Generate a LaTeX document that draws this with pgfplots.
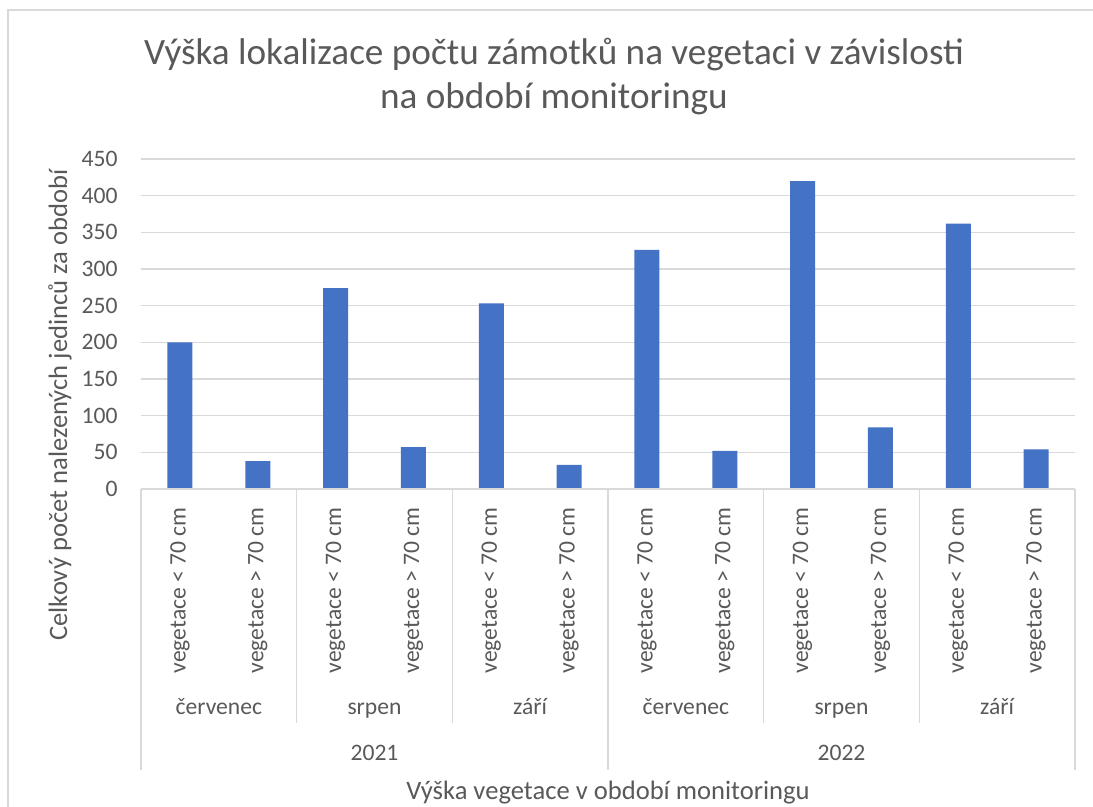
\documentclass[border=0pt]{standalone}
\usepackage{fontspec}
\setmainfont{Carlito}
\usepackage{pgfplots}
\pgfplotsset{compat=1.18}
\definecolor{barblue}{HTML}{4472C4}
\definecolor{gridgray}{HTML}{D9D9D9}
\definecolor{txtgray}{HTML}{595959}
\begin{document}
\begin{tikzpicture}[x=1pt,y=1pt,
  lbl/.style={anchor=base, font=\fontsize{11.8}{14}\selectfont, text=txtgray},
  sep/.style={gridgray, line width=0.75pt}]
\useasboundingbox (0,0) rectangle (546.5,403.5);
\draw[gridgray, line width=0.75pt] (4,0) -- (4,398.5) -- (546.5,398.5);
\begin{axis}[
  at={(70.5pt,159pt)}, anchor=south west,
  scale only axis, width=467pt, height=165pt,
  xmin=-0.5, xmax=11.5, ymin=0, ymax=450,
  ytick={0,50,...,450},
  xtick={0,...,11},
  xticklabels={vegetace < 70 cm, vegetace > 70 cm, vegetace < 70 cm, vegetace > 70 cm, vegetace < 70 cm, vegetace > 70 cm, vegetace < 70 cm, vegetace > 70 cm, vegetace < 70 cm, vegetace > 70 cm, vegetace < 70 cm, vegetace > 70 cm},
  axis line style={draw=none},
  major tick length=0pt,
  ymajorgrids, grid style={gridgray, line width=0.75pt},
  tick label style={font=\fontsize{11.8}{14}\selectfont, text=txtgray},
  /pgf/number format/assume math mode=true,
  yticklabel style={anchor=east, inner sep=0pt},
  yticklabel shift=11.5pt,
  xticklabel style={rotate=90, anchor=east, inner sep=0pt},
  xticklabel shift=9pt,
  clip=false,
  ybar, bar width=12.5pt,
]
\addplot[fill=barblue, draw=none] coordinates {(0,200) (1,38) (2,274) (3,57) (4,253) (5,33) (6,326) (7,52) (8,420) (9,84) (10,362) (11,54)};
\draw[sep] (axis cs:-0.5,0) -- (axis cs:11.5,0);
\draw[sep] (axis cs:1.5,0) -- ([yshift=-117pt]axis cs:1.5,0);
\draw[sep] (axis cs:3.5,0) -- ([yshift=-117pt]axis cs:3.5,0);
\draw[sep] (axis cs:7.5,0) -- ([yshift=-117pt]axis cs:7.5,0);
\draw[sep] (axis cs:9.5,0) -- ([yshift=-117pt]axis cs:9.5,0);
\draw[sep] (axis cs:-0.5,0) -- ([yshift=-140.5pt]axis cs:-0.5,0);
\draw[sep] (axis cs:5.5,0) -- ([yshift=-140.5pt]axis cs:5.5,0);
\draw[sep] (axis cs:11.5,0) -- ([yshift=-140.5pt]axis cs:11.5,0);
\node[lbl, yshift=-113pt] at (axis cs:0.5,0) {červenec};
\node[lbl, yshift=-113pt] at (axis cs:2.5,0) {srpen};
\node[lbl, yshift=-113pt] at (axis cs:4.5,0) {září};
\node[lbl, yshift=-113pt] at (axis cs:6.5,0) {červenec};
\node[lbl, yshift=-113pt] at (axis cs:8.5,0) {srpen};
\node[lbl, yshift=-113pt] at (axis cs:10.5,0) {září};
\node[lbl, yshift=-136pt] at (axis cs:2.5,0) {2021};
\node[lbl, yshift=-136pt] at (axis cs:8.5,0) {2022};
\node[anchor=base, yshift=-155.5pt, font=\fontsize{13.3}{16}\selectfont, text=txtgray] at (axis cs:5.5,0) {Výška vegetace v období monitoringu};
\end{axis}
\node[rotate=90, font=\fontsize{13.3}{16}\selectfont, text=txtgray] at (30,201) {Celkový počet nalezených jedinců za období};
\node[anchor=base, font=\fontsize{18.6}{22}\selectfont, text=txtgray] at (277,371) {Výška lokalizace počtu zámotků na vegetaci v závislosti};
\node[anchor=base, font=\fontsize{18.6}{22}\selectfont, text=txtgray] at (277,349) {na období monitoringu};
\end{tikzpicture}
\end{document}
